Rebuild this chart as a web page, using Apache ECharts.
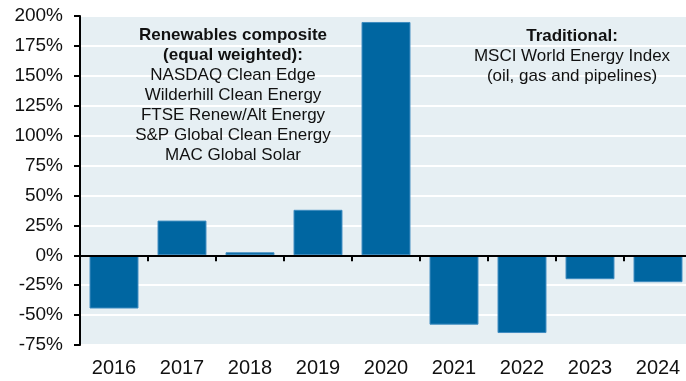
<!DOCTYPE html>
<html>
<head>
<meta charset="utf-8">
<script src="https://cdn.jsdelivr.net/npm/echarts@6/dist/echarts.min.js"></script>
<style>
  html, body { margin: 0; padding: 0; background: #ffffff; }
  #chart { width: 686px; height: 381px; }
</style>
</head>
<body>
<div id="chart"></div>
<script>
// Annual total returns, renewables composite vs. traditional energy
const years = ['2016', '2017', '2018', '2019', '2020', '2021', '2022', '2023', '2024'];
const returns = [-44.5, 29, 2.5, 38, 195, -58, -65, -20, -22.5];

const yMin = -75;
const yMax = 200;
const yStep = 25;

const renewablesTitle = ['Renewables composite', '(equal weighted):'];
const renewablesList = ['NASDAQ Clean Edge', 'Wilderhill Clean Energy', 'FTSE Renew/Alt Energy',
  'S&P Global Clean Energy', 'MAC Global Solar'];
const traditionalTitle = ['Traditional:'];
const traditionalList = ['MSCI World Energy Index', '(oil, gas and pipelines)'];

const FONT = 'Arial, "Liberation Sans", sans-serif';
const chart = echarts.init(document.getElementById('chart'), null, { renderer: 'canvas' });

function textBlock(lines, x, y, bold) {
  return {
    type: 'text',
    x: x,
    y: y,
    z: 100,
    style: {
      text: lines.join('\n'),
      fill: '#111111',
      font: (bold ? 'bold ' : '') + '17px ' + FONT,
      lineHeight: 20,
      align: 'center',
      verticalAlign: 'top'
    }
  };
}

chart.setOption({
  animation: false,
  backgroundColor: '#ffffff',
  grid: {
    left: 80,
    width: 612,
    top: 16,
    bottom: 36,
    outerBoundsMode: 'none',
    containLabel: false,
    show: true,
    backgroundColor: '#e6eff3',
    borderWidth: 0
  },
  xAxis: [
    {
      type: 'category',
      data: years,
      axisLine: { onZero: true, lineStyle: { color: '#000000', width: 2 } },
      axisTick: { show: true, alignWithLabel: false, length: 6, lineStyle: { color: '#000000', width: 2 } },
      axisLabel: { show: false },
      z: 10
    },
    {
      type: 'category',
      data: years,
      position: 'bottom',
      axisLine: { show: false, onZero: false },
      axisTick: { show: false },
      axisLabel: { show: true, color: '#111111', fontSize: 20, fontFamily: FONT, margin: 13 }
    }
  ],
  yAxis: {
    type: 'value',
    min: yMin,
    max: yMax,
    interval: yStep,
    axisLine: { show: true, lineStyle: { color: '#000000', width: 2 } },
    axisTick: { show: true, length: 6, lineStyle: { color: '#000000', width: 2 } },
    axisLabel: { formatter: '{value}%', color: '#111111', fontSize: 19, fontFamily: FONT, margin: 17 },
    splitLine: { show: true, lineStyle: { color: '#ffffff', width: 2 } }
  },
  series: [
    {
      type: 'bar',
      data: returns,
      xAxisIndex: 0,
      barWidth: '72%',
      itemStyle: { color: '#0066a1', borderColor: '#3f8cc0', borderWidth: 1 },
      z: 2
    }
  ],
  graphic: [
    textBlock(renewablesTitle, 233, 25, true),
    textBlock(renewablesList, 233, 65, false),
    textBlock(traditionalTitle, 572, 26, true),
    textBlock(traditionalList, 572, 46, false)
  ]
});
</script>
</body>
</html>
